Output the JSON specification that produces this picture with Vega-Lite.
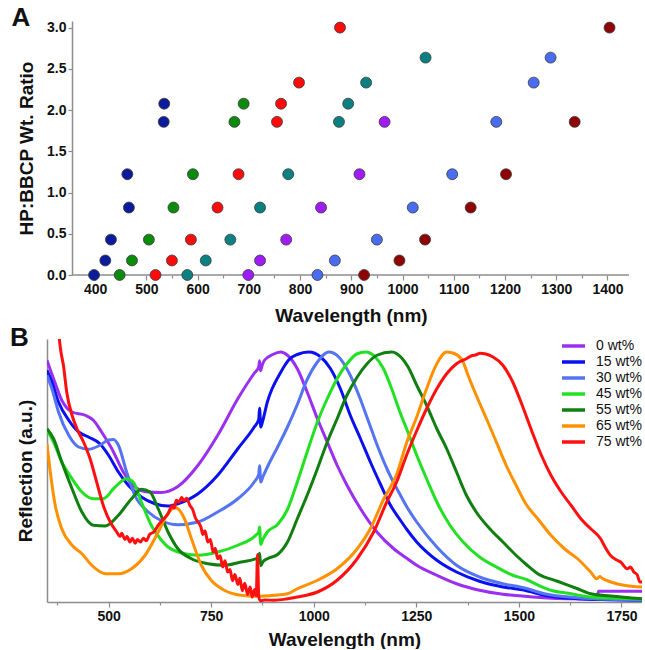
{
"$schema": "https://vega.github.io/schema/vega-lite/v6.json",
"background": "white",
"padding": {"left": 10, "top": 4, "right": 0, "bottom": 0},
"spacing": 0,
"columns": 1,
"resolve": {"scale": {"color": "independent"}, "legend": {"color": "independent"}},
"config": {
 "font": "Liberation Sans",
 "view": {"stroke": null},
 "axis": {"grid": false, "domainColor": "#8c8c8c", "domainWidth": 1.5, "tickColor": "#8c8c8c", "tickWidth": 1.2, "labelFont": "Liberation Sans", "labelFontSize": 14, "labelFontWeight": "bold", "labelColor": "#111111", "titleFont": "Liberation Sans", "titleFontSize": 19, "titleFontWeight": "bold", "titleColor": "#111111"},
 "title": {"font": "Liberation Sans", "fontSize": 26, "fontWeight": "bold", "color": "#111111"}
},
"datasets": {
 "scatter": [
  {"series":"P1","wavelength":398,"ratio":0},{"series":"P1","wavelength":420,"ratio":0.176},{"series":"P1","wavelength":431,"ratio":0.429},{"series":"P1","wavelength":466,"ratio":0.818},{"series":"P1","wavelength":463,"ratio":1.222},{"series":"P1","wavelength":534,"ratio":1.857},{"series":"P1","wavelength":535,"ratio":2.077},
  {"series":"P2","wavelength":448,"ratio":0},{"series":"P2","wavelength":472,"ratio":0.176},{"series":"P2","wavelength":505,"ratio":0.429},{"series":"P2","wavelength":553,"ratio":0.818},{"series":"P2","wavelength":591,"ratio":1.222},{"series":"P2","wavelength":672,"ratio":1.857},{"series":"P2","wavelength":690,"ratio":2.077},
  {"series":"P3","wavelength":518,"ratio":0},{"series":"P3","wavelength":550,"ratio":0.176},{"series":"P3","wavelength":587,"ratio":0.429},{"series":"P3","wavelength":639,"ratio":0.818},{"series":"P3","wavelength":680,"ratio":1.222},{"series":"P3","wavelength":755,"ratio":1.857},{"series":"P3","wavelength":763,"ratio":2.077},{"series":"P3","wavelength":798,"ratio":2.333},{"series":"P3","wavelength":878,"ratio":3.0},
  {"series":"P4","wavelength":580,"ratio":0},{"series":"P4","wavelength":616,"ratio":0.176},{"series":"P4","wavelength":664,"ratio":0.429},{"series":"P4","wavelength":722,"ratio":0.818},{"series":"P4","wavelength":777,"ratio":1.222},{"series":"P4","wavelength":876,"ratio":1.857},{"series":"P4","wavelength":894,"ratio":2.077},{"series":"P4","wavelength":929,"ratio":2.333},{"series":"P4","wavelength":1045,"ratio":2.636},
  {"series":"P5","wavelength":699,"ratio":0},{"series":"P5","wavelength":722,"ratio":0.176},{"series":"P5","wavelength":773,"ratio":0.429},{"series":"P5","wavelength":841,"ratio":0.818},{"series":"P5","wavelength":916,"ratio":1.222},{"series":"P5","wavelength":965,"ratio":1.857},
  {"series":"P6","wavelength":834,"ratio":0},{"series":"P6","wavelength":868,"ratio":0.176},{"series":"P6","wavelength":950,"ratio":0.429},{"series":"P6","wavelength":1020,"ratio":0.818},{"series":"P6","wavelength":1097,"ratio":1.222},{"series":"P6","wavelength":1183,"ratio":1.857},{"series":"P6","wavelength":1256,"ratio":2.333},{"series":"P6","wavelength":1289,"ratio":2.636},
  {"series":"P7","wavelength":925,"ratio":0},{"series":"P7","wavelength":994,"ratio":0.176},{"series":"P7","wavelength":1044,"ratio":0.429},{"series":"P7","wavelength":1133,"ratio":0.818},{"series":"P7","wavelength":1202,"ratio":1.222},{"series":"P7","wavelength":1336,"ratio":1.857},{"series":"P7","wavelength":1404,"ratio":3.0}
 ],
 "spectra": [
  {"series":" 0 wt%","wavelength":350,"reflection":0.967},{"series":" 0 wt%","wavelength":366,"reflection":0.893},{"series":" 0 wt%","wavelength":386,"reflection":0.807},{"series":" 0 wt%","wavelength":411,"reflection":0.76},{"series":" 0 wt%","wavelength":443,"reflection":0.747},{"series":" 0 wt%","wavelength":463,"reflection":0.727},{"series":" 0 wt%","wavelength":483,"reflection":0.68},{"series":" 0 wt%","wavelength":508,"reflection":0.613},{"series":" 0 wt%","wavelength":536,"reflection":0.52},{"series":" 0 wt%","wavelength":564,"reflection":0.46},{"series":" 0 wt%","wavelength":597,"reflection":0.44},{"series":" 0 wt%","wavelength":628,"reflection":0.438},{"series":" 0 wt%","wavelength":669,"reflection":0.462},{"series":" 0 wt%","wavelength":718,"reflection":0.547},{"series":" 0 wt%","wavelength":766,"reflection":0.667},{"series":" 0 wt%","wavelength":815,"reflection":0.813},{"series":" 0 wt%","wavelength":855,"reflection":0.915},{"series":" 0 wt%","wavelength":866,"reflection":0.94},{"series":" 0 wt%","wavelength":868,"reflection":0.965},{"series":" 0 wt%","wavelength":870,"reflection":0.925},{"series":" 0 wt%","wavelength":875,"reflection":0.95},{"series":" 0 wt%","wavelength":880,"reflection":0.967},{"series":" 0 wt%","wavelength":900,"reflection":0.99},{"series":" 0 wt%","wavelength":920,"reflection":1.0},{"series":" 0 wt%","wavelength":936,"reflection":0.987},{"series":" 0 wt%","wavelength":960,"reflection":0.933},{"series":" 0 wt%","wavelength":984,"reflection":0.84},{"series":" 0 wt%","wavelength":1009,"reflection":0.733},{"series":" 0 wt%","wavelength":1033,"reflection":0.64},{"series":" 0 wt%","wavelength":1057,"reflection":0.547},{"series":" 0 wt%","wavelength":1081,"reflection":0.467},{"series":" 0 wt%","wavelength":1114,"reflection":0.373},{"series":" 0 wt%","wavelength":1154,"reflection":0.28},{"series":" 0 wt%","wavelength":1195,"reflection":0.213},{"series":" 0 wt%","wavelength":1227,"reflection":0.175},{"series":" 0 wt%","wavelength":1251,"reflection":0.147},{"series":" 0 wt%","wavelength":1300,"reflection":0.107},{"series":" 0 wt%","wavelength":1348,"reflection":0.073},{"series":" 0 wt%","wavelength":1404,"reflection":0.047},{"series":" 0 wt%","wavelength":1461,"reflection":0.031},{"series":" 0 wt%","wavelength":1514,"reflection":0.023},{"series":" 0 wt%","wavelength":1560,"reflection":0.017},{"series":" 0 wt%","wavelength":1620,"reflection":0.013},{"series":" 0 wt%","wavelength":1690,"reflection":0.012},{"series":" 0 wt%","wavelength":1694,"reflection":0.043},{"series":" 0 wt%","wavelength":1800,"reflection":0.043},
  {"series":"15 wt%","wavelength":350,"reflection":0.927},{"series":"15 wt%","wavelength":362,"reflection":0.88},{"series":"15 wt%","wavelength":378,"reflection":0.8},{"series":"15 wt%","wavelength":403,"reflection":0.727},{"series":"15 wt%","wavelength":427,"reflection":0.68},{"series":"15 wt%","wavelength":451,"reflection":0.66},{"series":"15 wt%","wavelength":479,"reflection":0.633},{"series":"15 wt%","wavelength":500,"reflection":0.587},{"series":"15 wt%","wavelength":524,"reflection":0.52},{"series":"15 wt%","wavelength":548,"reflection":0.467},{"series":"15 wt%","wavelength":580,"reflection":0.42},{"series":"15 wt%","wavelength":613,"reflection":0.393},{"series":"15 wt%","wavelength":645,"reflection":0.384},{"series":"15 wt%","wavelength":669,"reflection":0.393},{"series":"15 wt%","wavelength":718,"reflection":0.433},{"series":"15 wt%","wavelength":766,"reflection":0.507},{"series":"15 wt%","wavelength":815,"reflection":0.613},{"series":"15 wt%","wavelength":855,"reflection":0.7},{"series":"15 wt%","wavelength":866,"reflection":0.73},{"series":"15 wt%","wavelength":868,"reflection":0.775},{"series":"15 wt%","wavelength":871,"reflection":0.7},{"series":"15 wt%","wavelength":875,"reflection":0.72},{"series":"15 wt%","wavelength":887,"reflection":0.8},{"series":"15 wt%","wavelength":920,"reflection":0.92},{"series":"15 wt%","wavelength":940,"reflection":0.97},{"series":"15 wt%","wavelength":960,"reflection":0.99},{"series":"15 wt%","wavelength":988,"reflection":1.0},{"series":"15 wt%","wavelength":1017,"reflection":0.98},{"series":"15 wt%","wavelength":1041,"reflection":0.933},{"series":"15 wt%","wavelength":1065,"reflection":0.853},{"series":"15 wt%","wavelength":1089,"reflection":0.747},{"series":"15 wt%","wavelength":1114,"reflection":0.653},{"series":"15 wt%","wavelength":1138,"reflection":0.56},{"series":"15 wt%","wavelength":1162,"reflection":0.473},{"series":"15 wt%","wavelength":1186,"reflection":0.39},{"series":"15 wt%","wavelength":1210,"reflection":0.33},{"series":"15 wt%","wavelength":1227,"reflection":0.29},{"series":"15 wt%","wavelength":1251,"reflection":0.24},{"series":"15 wt%","wavelength":1300,"reflection":0.167},{"series":"15 wt%","wavelength":1348,"reflection":0.12},{"series":"15 wt%","wavelength":1404,"reflection":0.083},{"series":"15 wt%","wavelength":1461,"reflection":0.06},{"series":"15 wt%","wavelength":1514,"reflection":0.047},{"series":"15 wt%","wavelength":1562,"reflection":0.027},{"series":"15 wt%","wavelength":1643,"reflection":0.013},{"series":"15 wt%","wavelength":1720,"reflection":0.009},{"series":"15 wt%","wavelength":1800,"reflection":0.007},
  {"series":"30 wt%","wavelength":350,"reflection":0.907},{"series":"30 wt%","wavelength":362,"reflection":0.853},{"series":"30 wt%","wavelength":378,"reflection":0.76},{"series":"30 wt%","wavelength":403,"reflection":0.667},{"series":"30 wt%","wavelength":427,"reflection":0.62},{"series":"30 wt%","wavelength":451,"reflection":0.611},{"series":"30 wt%","wavelength":479,"reflection":0.627},{"series":"30 wt%","wavelength":500,"reflection":0.648},{"series":"30 wt%","wavelength":512,"reflection":0.65},{"series":"30 wt%","wavelength":524,"reflection":0.627},{"series":"30 wt%","wavelength":544,"reflection":0.52},{"series":"30 wt%","wavelength":564,"reflection":0.427},{"series":"30 wt%","wavelength":597,"reflection":0.36},{"series":"30 wt%","wavelength":629,"reflection":0.325},{"series":"30 wt%","wavelength":669,"reflection":0.309},{"series":"30 wt%","wavelength":718,"reflection":0.32},{"series":"30 wt%","wavelength":766,"reflection":0.36},{"series":"30 wt%","wavelength":815,"reflection":0.413},{"series":"30 wt%","wavelength":855,"reflection":0.48},{"series":"30 wt%","wavelength":866,"reflection":0.51},{"series":"30 wt%","wavelength":868,"reflection":0.545},{"series":"30 wt%","wavelength":871,"reflection":0.48},{"series":"30 wt%","wavelength":876,"reflection":0.5},{"series":"30 wt%","wavelength":887,"reflection":0.54},{"series":"30 wt%","wavelength":912,"reflection":0.62},{"series":"30 wt%","wavelength":936,"reflection":0.7},{"series":"30 wt%","wavelength":960,"reflection":0.79},{"series":"30 wt%","wavelength":984,"reflection":0.89},{"series":"30 wt%","wavelength":1009,"reflection":0.96},{"series":"30 wt%","wavelength":1037,"reflection":1.0},{"series":"30 wt%","wavelength":1061,"reflection":0.98},{"series":"30 wt%","wavelength":1085,"reflection":0.92},{"series":"30 wt%","wavelength":1110,"reflection":0.827},{"series":"30 wt%","wavelength":1134,"reflection":0.72},{"series":"30 wt%","wavelength":1158,"reflection":0.613},{"series":"30 wt%","wavelength":1182,"reflection":0.52},{"series":"30 wt%","wavelength":1207,"reflection":0.44},{"series":"30 wt%","wavelength":1227,"reflection":0.38},{"series":"30 wt%","wavelength":1251,"reflection":0.32},{"series":"30 wt%","wavelength":1300,"reflection":0.22},{"series":"30 wt%","wavelength":1348,"reflection":0.147},{"series":"30 wt%","wavelength":1404,"reflection":0.1},{"series":"30 wt%","wavelength":1461,"reflection":0.073},{"series":"30 wt%","wavelength":1514,"reflection":0.056},{"series":"30 wt%","wavelength":1562,"reflection":0.033},{"series":"30 wt%","wavelength":1643,"reflection":0.017},{"series":"30 wt%","wavelength":1720,"reflection":0.011},{"series":"30 wt%","wavelength":1800,"reflection":0.009},
  {"series":"45 wt%","wavelength":350,"reflection":0.687},{"series":"45 wt%","wavelength":366,"reflection":0.64},{"series":"45 wt%","wavelength":386,"reflection":0.56},{"series":"45 wt%","wavelength":411,"reflection":0.493},{"series":"45 wt%","wavelength":435,"reflection":0.44},{"series":"45 wt%","wavelength":463,"reflection":0.413},{"series":"45 wt%","wavelength":487,"reflection":0.413},{"series":"45 wt%","wavelength":516,"reflection":0.46},{"series":"45 wt%","wavelength":544,"reflection":0.493},{"series":"45 wt%","wavelength":560,"reflection":0.48},{"series":"45 wt%","wavelength":580,"reflection":0.4},{"series":"45 wt%","wavelength":604,"reflection":0.307},{"series":"45 wt%","wavelength":629,"reflection":0.247},{"series":"45 wt%","wavelength":645,"reflection":0.22},{"series":"45 wt%","wavelength":669,"reflection":0.2},{"series":"45 wt%","wavelength":718,"reflection":0.187},{"series":"45 wt%","wavelength":766,"reflection":0.2},{"series":"45 wt%","wavelength":815,"reflection":0.227},{"series":"45 wt%","wavelength":859,"reflection":0.267},{"series":"45 wt%","wavelength":866,"reflection":0.28},{"series":"45 wt%","wavelength":868,"reflection":0.3},{"series":"45 wt%","wavelength":871,"reflection":0.23},{"series":"45 wt%","wavelength":876,"reflection":0.25},{"series":"45 wt%","wavelength":887,"reflection":0.28},{"series":"45 wt%","wavelength":912,"reflection":0.31},{"series":"45 wt%","wavelength":936,"reflection":0.37},{"series":"45 wt%","wavelength":960,"reflection":0.48},{"series":"45 wt%","wavelength":984,"reflection":0.6},{"series":"45 wt%","wavelength":1009,"reflection":0.72},{"series":"45 wt%","wavelength":1033,"reflection":0.813},{"series":"45 wt%","wavelength":1057,"reflection":0.893},{"series":"45 wt%","wavelength":1081,"reflection":0.953},{"series":"45 wt%","wavelength":1106,"reflection":0.993},{"series":"45 wt%","wavelength":1126,"reflection":1.0},{"series":"45 wt%","wavelength":1150,"reflection":0.98},{"series":"45 wt%","wavelength":1170,"reflection":0.933},{"series":"45 wt%","wavelength":1190,"reflection":0.853},{"series":"45 wt%","wavelength":1210,"reflection":0.76},{"series":"45 wt%","wavelength":1227,"reflection":0.69},{"series":"45 wt%","wavelength":1251,"reflection":0.587},{"series":"45 wt%","wavelength":1275,"reflection":0.493},{"series":"45 wt%","wavelength":1300,"reflection":0.4},{"series":"45 wt%","wavelength":1332,"reflection":0.307},{"series":"45 wt%","wavelength":1364,"reflection":0.24},{"series":"45 wt%","wavelength":1404,"reflection":0.18},{"series":"45 wt%","wavelength":1445,"reflection":0.14},{"series":"45 wt%","wavelength":1485,"reflection":0.107},{"series":"45 wt%","wavelength":1518,"reflection":0.09},{"series":"45 wt%","wavelength":1550,"reflection":0.065},{"series":"45 wt%","wavelength":1578,"reflection":0.047},{"series":"45 wt%","wavelength":1627,"reflection":0.033},{"series":"45 wt%","wavelength":1675,"reflection":0.02},{"series":"45 wt%","wavelength":1724,"reflection":0.016},{"series":"45 wt%","wavelength":1800,"reflection":0.012},
  {"series":"55 wt%","wavelength":350,"reflection":0.693},{"series":"55 wt%","wavelength":366,"reflection":0.653},{"series":"55 wt%","wavelength":386,"reflection":0.56},{"series":"55 wt%","wavelength":411,"reflection":0.453},{"series":"55 wt%","wavelength":435,"reflection":0.36},{"series":"55 wt%","wavelength":463,"reflection":0.307},{"series":"55 wt%","wavelength":492,"reflection":0.304},{"series":"55 wt%","wavelength":524,"reflection":0.347},{"series":"55 wt%","wavelength":556,"reflection":0.413},{"series":"55 wt%","wavelength":580,"reflection":0.451},{"series":"55 wt%","wavelength":601,"reflection":0.44},{"series":"55 wt%","wavelength":621,"reflection":0.373},{"series":"55 wt%","wavelength":645,"reflection":0.28},{"series":"55 wt%","wavelength":669,"reflection":0.213},{"series":"55 wt%","wavelength":702,"reflection":0.173},{"series":"55 wt%","wavelength":742,"reflection":0.153},{"series":"55 wt%","wavelength":782,"reflection":0.147},{"series":"55 wt%","wavelength":823,"reflection":0.16},{"series":"55 wt%","wavelength":859,"reflection":0.173},{"series":"55 wt%","wavelength":866,"reflection":0.18},{"series":"55 wt%","wavelength":868,"reflection":0.195},{"series":"55 wt%","wavelength":871,"reflection":0.145},{"series":"55 wt%","wavelength":876,"reflection":0.16},{"series":"55 wt%","wavelength":887,"reflection":0.173},{"series":"55 wt%","wavelength":912,"reflection":0.19},{"series":"55 wt%","wavelength":936,"reflection":0.24},{"series":"55 wt%","wavelength":960,"reflection":0.333},{"series":"55 wt%","wavelength":984,"reflection":0.427},{"series":"55 wt%","wavelength":1009,"reflection":0.533},{"series":"55 wt%","wavelength":1033,"reflection":0.64},{"series":"55 wt%","wavelength":1057,"reflection":0.733},{"series":"55 wt%","wavelength":1081,"reflection":0.827},{"series":"55 wt%","wavelength":1106,"reflection":0.9},{"series":"55 wt%","wavelength":1130,"reflection":0.953},{"series":"55 wt%","wavelength":1154,"reflection":0.987},{"series":"55 wt%","wavelength":1190,"reflection":1.0},{"series":"55 wt%","wavelength":1215,"reflection":0.975},{"series":"55 wt%","wavelength":1230,"reflection":0.94},{"series":"55 wt%","wavelength":1251,"reflection":0.867},{"series":"55 wt%","wavelength":1275,"reflection":0.787},{"series":"55 wt%","wavelength":1300,"reflection":0.693},{"series":"55 wt%","wavelength":1324,"reflection":0.613},{"series":"55 wt%","wavelength":1348,"reflection":0.52},{"series":"55 wt%","wavelength":1372,"reflection":0.427},{"series":"55 wt%","wavelength":1396,"reflection":0.36},{"series":"55 wt%","wavelength":1429,"reflection":0.293},{"series":"55 wt%","wavelength":1461,"reflection":0.24},{"series":"55 wt%","wavelength":1493,"reflection":0.187},{"series":"55 wt%","wavelength":1518,"reflection":0.15},{"series":"55 wt%","wavelength":1546,"reflection":0.113},{"series":"55 wt%","wavelength":1594,"reflection":0.083},{"series":"55 wt%","wavelength":1643,"reflection":0.053},{"series":"55 wt%","wavelength":1675,"reflection":0.033},{"series":"55 wt%","wavelength":1724,"reflection":0.024},{"series":"55 wt%","wavelength":1800,"reflection":0.013},
  {"series":"65 wt%","wavelength":350,"reflection":0.633},{"series":"65 wt%","wavelength":358,"reflection":0.52},{"series":"65 wt%","wavelength":370,"reflection":0.387},{"series":"65 wt%","wavelength":386,"reflection":0.293},{"series":"65 wt%","wavelength":411,"reflection":0.227},{"series":"65 wt%","wavelength":435,"reflection":0.193},{"series":"65 wt%","wavelength":459,"reflection":0.147},{"series":"65 wt%","wavelength":492,"reflection":0.113},{"series":"65 wt%","wavelength":524,"reflection":0.113},{"series":"65 wt%","wavelength":556,"reflection":0.133},{"series":"65 wt%","wavelength":589,"reflection":0.187},{"series":"65 wt%","wavelength":621,"reflection":0.28},{"series":"65 wt%","wavelength":645,"reflection":0.355},{"series":"65 wt%","wavelength":662,"reflection":0.378},{"series":"65 wt%","wavelength":685,"reflection":0.333},{"series":"65 wt%","wavelength":702,"reflection":0.253},{"series":"65 wt%","wavelength":726,"reflection":0.147},{"series":"65 wt%","wavelength":750,"reflection":0.087},{"series":"65 wt%","wavelength":782,"reflection":0.047},{"series":"65 wt%","wavelength":823,"reflection":0.027},{"series":"65 wt%","wavelength":863,"reflection":0.023},{"series":"65 wt%","wavelength":904,"reflection":0.027},{"series":"65 wt%","wavelength":936,"reflection":0.033},{"series":"65 wt%","wavelength":960,"reflection":0.053},{"series":"65 wt%","wavelength":1009,"reflection":0.087},{"series":"65 wt%","wavelength":1057,"reflection":0.133},{"series":"65 wt%","wavelength":1106,"reflection":0.213},{"series":"65 wt%","wavelength":1138,"reflection":0.293},{"series":"65 wt%","wavelength":1170,"reflection":0.41},{"series":"65 wt%","wavelength":1202,"reflection":0.51},{"series":"65 wt%","wavelength":1227,"reflection":0.64},{"series":"65 wt%","wavelength":1251,"reflection":0.74},{"series":"65 wt%","wavelength":1275,"reflection":0.853},{"series":"65 wt%","wavelength":1300,"reflection":0.953},{"series":"65 wt%","wavelength":1324,"reflection":1.0},{"series":"65 wt%","wavelength":1344,"reflection":0.993},{"series":"65 wt%","wavelength":1364,"reflection":0.96},{"series":"65 wt%","wavelength":1376,"reflection":0.907},{"series":"65 wt%","wavelength":1396,"reflection":0.827},{"series":"65 wt%","wavelength":1421,"reflection":0.733},{"series":"65 wt%","wavelength":1445,"reflection":0.64},{"series":"65 wt%","wavelength":1469,"reflection":0.547},{"series":"65 wt%","wavelength":1493,"reflection":0.467},{"series":"65 wt%","wavelength":1518,"reflection":0.39},{"series":"65 wt%","wavelength":1546,"reflection":0.333},{"series":"65 wt%","wavelength":1578,"reflection":0.267},{"series":"65 wt%","wavelength":1611,"reflection":0.213},{"series":"65 wt%","wavelength":1643,"reflection":0.173},{"series":"65 wt%","wavelength":1675,"reflection":0.12},{"series":"65 wt%","wavelength":1690,"reflection":0.093},{"series":"65 wt%","wavelength":1697,"reflection":0.102},{"series":"65 wt%","wavelength":1703,"reflection":0.095},{"series":"65 wt%","wavelength":1724,"reflection":0.08},{"series":"65 wt%","wavelength":1756,"reflection":0.067},{"series":"65 wt%","wavelength":1800,"reflection":0.06},
  {"series":"75 wt%","wavelength":378,"reflection":1.08},{"series":"75 wt%","wavelength":384,"reflection":1.0},{"series":"75 wt%","wavelength":390,"reflection":0.947},{"series":"75 wt%","wavelength":398,"reflection":0.84},{"series":"75 wt%","wavelength":411,"reflection":0.747},{"series":"75 wt%","wavelength":423,"reflection":0.693},{"series":"75 wt%","wavelength":439,"reflection":0.64},{"series":"75 wt%","wavelength":455,"reflection":0.573},{"series":"75 wt%","wavelength":471,"reflection":0.48},{"series":"75 wt%","wavelength":487,"reflection":0.387},{"series":"75 wt%","wavelength":504,"reflection":0.32},{"series":"75 wt%","wavelength":520,"reflection":0.28},{"series":"75 wt%","wavelength":528,"reflection":0.262},{"series":"75 wt%","wavelength":532,"reflection":0.275},{"series":"75 wt%","wavelength":540,"reflection":0.25},{"series":"75 wt%","wavelength":545,"reflection":0.262},{"series":"75 wt%","wavelength":552,"reflection":0.24},{"series":"75 wt%","wavelength":558,"reflection":0.255},{"series":"75 wt%","wavelength":565,"reflection":0.235},{"series":"75 wt%","wavelength":570,"reflection":0.25},{"series":"75 wt%","wavelength":578,"reflection":0.24},{"series":"75 wt%","wavelength":585,"reflection":0.255},{"series":"75 wt%","wavelength":592,"reflection":0.245},{"series":"75 wt%","wavelength":600,"reflection":0.27},{"series":"75 wt%","wavelength":610,"reflection":0.28},{"series":"75 wt%","wavelength":621,"reflection":0.307},{"series":"75 wt%","wavelength":633,"reflection":0.33},{"series":"75 wt%","wavelength":645,"reflection":0.353},{"series":"75 wt%","wavelength":655,"reflection":0.385},{"series":"75 wt%","wavelength":660,"reflection":0.375},{"series":"75 wt%","wavelength":665,"reflection":0.407},{"series":"75 wt%","wavelength":672,"reflection":0.4},{"series":"75 wt%","wavelength":678,"reflection":0.418},{"series":"75 wt%","wavelength":684,"reflection":0.405},{"series":"75 wt%","wavelength":690,"reflection":0.415},{"series":"75 wt%","wavelength":698,"reflection":0.387},{"series":"75 wt%","wavelength":705,"reflection":0.37},{"series":"75 wt%","wavelength":712,"reflection":0.335},{"series":"75 wt%","wavelength":718,"reflection":0.32},{"series":"75 wt%","wavelength":725,"reflection":0.3},{"series":"75 wt%","wavelength":730,"reflection":0.27},{"series":"75 wt%","wavelength":735,"reflection":0.285},{"series":"75 wt%","wavelength":742,"reflection":0.24},{"series":"75 wt%","wavelength":748,"reflection":0.25},{"series":"75 wt%","wavelength":755,"reflection":0.2},{"series":"75 wt%","wavelength":760,"reflection":0.215},{"series":"75 wt%","wavelength":766,"reflection":0.173},{"series":"75 wt%","wavelength":772,"reflection":0.185},{"series":"75 wt%","wavelength":778,"reflection":0.14},{"series":"75 wt%","wavelength":784,"reflection":0.165},{"series":"75 wt%","wavelength":790,"reflection":0.12},{"series":"75 wt%","wavelength":796,"reflection":0.13},{"series":"75 wt%","wavelength":802,"reflection":0.085},{"series":"75 wt%","wavelength":808,"reflection":0.11},{"series":"75 wt%","wavelength":815,"reflection":0.07},{"series":"75 wt%","wavelength":820,"reflection":0.095},{"series":"75 wt%","wavelength":826,"reflection":0.045},{"series":"75 wt%","wavelength":832,"reflection":0.075},{"series":"75 wt%","wavelength":839,"reflection":0.03},{"series":"75 wt%","wavelength":845,"reflection":0.06},{"series":"75 wt%","wavelength":850,"reflection":0.02},{"series":"75 wt%","wavelength":856,"reflection":0.05},{"series":"75 wt%","wavelength":860,"reflection":0.025},{"series":"75 wt%","wavelength":863,"reflection":0.19},{"series":"75 wt%","wavelength":866,"reflection":0.02},{"series":"75 wt%","wavelength":870,"reflection":0.005},{"series":"75 wt%","wavelength":880,"reflection":0.008},{"series":"75 wt%","wavelength":904,"reflection":0.007},{"series":"75 wt%","wavelength":936,"reflection":0.013},{"series":"75 wt%","wavelength":960,"reflection":0.02},{"series":"75 wt%","wavelength":1009,"reflection":0.04},{"series":"75 wt%","wavelength":1057,"reflection":0.087},{"series":"75 wt%","wavelength":1106,"reflection":0.173},{"series":"75 wt%","wavelength":1146,"reflection":0.28},{"series":"75 wt%","wavelength":1178,"reflection":0.4},{"series":"75 wt%","wavelength":1202,"reflection":0.48},{"series":"75 wt%","wavelength":1227,"reflection":0.59},{"series":"75 wt%","wavelength":1251,"reflection":0.685},{"series":"75 wt%","wavelength":1275,"reflection":0.773},{"series":"75 wt%","wavelength":1300,"reflection":0.853},{"series":"75 wt%","wavelength":1324,"reflection":0.913},{"series":"75 wt%","wavelength":1348,"reflection":0.953},{"series":"75 wt%","wavelength":1372,"reflection":0.973},{"series":"75 wt%","wavelength":1385,"reflection":0.985},{"series":"75 wt%","wavelength":1396,"reflection":0.989},{"series":"75 wt%","wavelength":1405,"reflection":0.995},{"series":"75 wt%","wavelength":1417,"reflection":0.993},{"series":"75 wt%","wavelength":1437,"reflection":0.98},{"series":"75 wt%","wavelength":1461,"reflection":0.947},{"series":"75 wt%","wavelength":1485,"reflection":0.88},{"series":"75 wt%","wavelength":1505,"reflection":0.8},{"series":"75 wt%","wavelength":1530,"reflection":0.69},{"series":"75 wt%","wavelength":1554,"reflection":0.59},{"series":"75 wt%","wavelength":1578,"reflection":0.507},{"series":"75 wt%","wavelength":1603,"reflection":0.44},{"series":"75 wt%","wavelength":1627,"reflection":0.387},{"series":"75 wt%","wavelength":1651,"reflection":0.333},{"series":"75 wt%","wavelength":1675,"reflection":0.293},{"series":"75 wt%","wavelength":1699,"reflection":0.253},{"series":"75 wt%","wavelength":1710,"reflection":0.22},{"series":"75 wt%","wavelength":1724,"reflection":0.185},{"series":"75 wt%","wavelength":1736,"reflection":0.17},{"series":"75 wt%","wavelength":1748,"reflection":0.16},{"series":"75 wt%","wavelength":1764,"reflection":0.133},{"series":"75 wt%","wavelength":1772,"reflection":0.14},{"series":"75 wt%","wavelength":1780,"reflection":0.12},{"series":"75 wt%","wavelength":1788,"reflection":0.11},{"series":"75 wt%","wavelength":1795,"reflection":0.08},{"series":"75 wt%","wavelength":1800,"reflection":0.08}
 ]
},
"concat": [
 {
  "width": 582,
  "height": 254,
  "title": {"text": "A", "anchor": "start", "frame": "bounds", "baseline": "top", "offset": -22, "dx": -6, "dy": -12},
  "encoding": {
   "x": {"field": "wavelength", "type": "quantitative", "scale": {"domain": [306.2, 1442], "nice": false, "zero": false},
    "axis": {"title": "Wavelength (nm)", "domain": false, "values": [400,450,500,550,600,650,700,750,800,850,900,950,1000,1050,1100,1150,1200,1250,1300,1350,1400], "format": "d", "labelExpr": "datum.value % 100 == 0 ? datum.label : ''", "tickSize": {"condition": {"test": "datum.value % 100 == 0", "value": 5}, "value": 3}, "labelPadding": 2, "titlePadding": 10, "titleX": 304}},
   "y": {"field": "ratio", "type": "quantitative", "scale": {"domain": [0, 3.08], "nice": false},
    "axis": {"title": "HP:BBCP Wt. Ratio", "offset": -25, "values": [0,0.5,1,1.5,2,2.5,3], "format": ".1f", "tickSize": 4, "labelPadding": 2, "titlePadding": 10}}
  },
  "layer": [
   {
    "data": {"values": [{"wavelength": 355, "wavelength_end": 1442, "ratio": 0}]},
    "mark": {"type": "rule", "color": "#8c8c8c", "strokeWidth": 1.5},
    "encoding": {"x2": {"field": "wavelength_end"}}
   },
   {
    "data": {"name": "scatter"},
    "mark": {"type": "circle", "size": 120, "opacity": 1, "stroke": "#3a3a3a", "strokeWidth": 0.8, "clip": false},
    "encoding": {
     "color": {"field": "series", "type": "nominal", "scale": {"domain": ["P1","P2","P3","P4","P5","P6","P7"], "range": ["#0c1a9c","#0b8a0b","#ff0a0a","#0a8080","#9f1cf5","#4a6cf0","#8e0303"]}, "legend": null}
    }
   }
  ]
 },
 {
  "width": 595,
  "height": 263,
  "title": {"text": "B", "anchor": "start", "frame": "bounds", "baseline": "top", "offset": -21, "dx": -6, "dy": -9},
  "data": {"name": "spectra"},
  "mark": {"type": "line", "strokeWidth": 3, "clip": true, "interpolate": "monotone"},
  "encoding": {
   "x": {"field": "wavelength", "type": "quantitative", "scale": {"domain": [350, 1800], "nice": false, "zero": false},
    "axis": {"title": "Wavelength (nm)", "values": [375,500,625,750,875,1000,1125,1250,1375,1500,1625,1750], "format": "d", "labelExpr": "datum.value % 250 == 0 ? datum.label : ''", "tickSize": {"condition": {"test": "datum.value % 250 == 0", "value": 5}, "value": 3}, "labelPadding": 2, "titlePadding": 7}},
   "y": {"field": "reflection", "type": "quantitative", "scale": {"domain": [0, 1.052], "nice": false},
    "axis": {"title": "Reflection (a.u.)", "labels": false, "ticks": false, "titlePadding": 12}},
   "color": {"field": "series", "type": "nominal", "sort": null,
    "scale": {"domain": [" 0 wt%","15 wt%","30 wt%","45 wt%","55 wt%","65 wt%","75 wt%"], "range": ["#9b2ff0","#0a10ee","#5574f2","#22e022","#0f7f0f","#ff9000","#ff1010"]},
    "legend": {"title": null, "orient": "top-right", "offset": 0, "padding": 0, "symbolType": "stroke", "symbolSize": 529, "symbolStrokeWidth": 3.5, "labelFont": "Liberation Sans", "labelFontSize": 14, "labelColor": "#111111", "labelOffset": 9, "clipHeight": 14, "rowPadding": 2}}
  }
 }
]
}
